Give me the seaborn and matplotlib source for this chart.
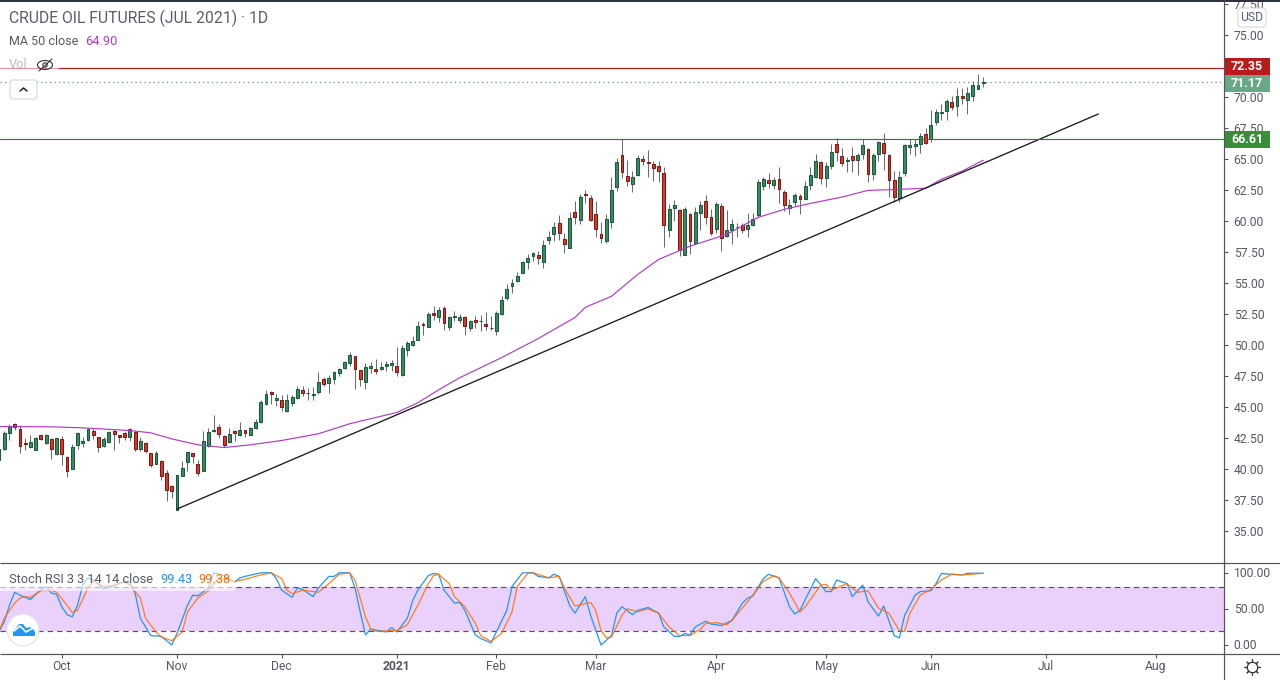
"""
plot.py
Crude oil futures daily candles with MA 50 and Stoch RSI pane.
"""

import matplotlib
matplotlib.use('Agg')
import matplotlib.pyplot as plt
import matplotlib.transforms as mtrans
import numpy as np
import seaborn as sns
from matplotlib.patches import Circle, Ellipse, FancyBboxPatch, Polygon, Rectangle

# --- Data -------------------------------------------------------------------
opens = [
    40.69, 41.60, 42.89, 43.62, 43.22, 42.11, 41.76, 41.57, 42.71, 42.09,
    42.41, 41.17, 42.41, 40.95, 40.04, 41.92, 42.06, 42.30, 43.06, 42.57,
    41.82, 42.17, 43.06, 42.73, 42.89, 42.62, 42.97, 41.63, 42.09, 41.28,
    40.44, 40.63, 39.66, 38.61, 36.73, 39.47, 40.60, 41.28, 40.39, 39.80,
    41.82, 43.03, 43.38, 42.65, 42.14, 43.06, 42.76, 43.13, 42.78, 43.27,
    43.83, 45.21, 46.20, 45.53, 45.56, 44.64, 45.29, 45.72, 46.37, 46.10,
    45.93, 46.20, 47.26, 46.91, 47.23, 47.71, 48.14, 48.52, 49.11, 47.98,
    47.01, 48.14, 48.06, 48.04, 48.28, 48.36, 48.31, 47.55, 49.60, 50.00,
    50.41, 51.70, 51.46, 52.61, 52.23, 52.99, 51.42, 52.29, 51.99, 52.26,
    51.34, 52.02, 51.91, 51.69, 51.40, 51.10, 52.48, 53.77, 54.74, 55.14,
    55.82, 56.68, 57.16, 57.22, 56.68, 58.46, 58.94, 59.86, 58.56, 57.84,
    60.75, 60.07, 62.15, 61.88, 60.58, 58.97, 58.38, 59.94, 62.77, 65.35,
    63.66, 62.98, 63.71, 65.03, 64.79, 64.63, 64.46, 63.90, 59.26, 61.04,
    60.91, 57.24, 60.58, 58.19, 60.64, 61.63, 60.34, 59.37, 61.23, 58.78,
    59.26, 59.48, 59.67, 59.34, 59.67, 60.45, 62.82, 63.33, 62.90, 63.41,
    62.36, 61.04, 61.53, 62.04, 61.80, 62.93, 63.57, 64.79, 63.47, 64.44,
    66.24, 65.28, 64.85, 65.28, 64.93, 65.41, 65.84, 63.80, 65.41, 66.33,
    65.36, 63.34, 61.86, 63.88, 65.98, 66.06, 66.17, 66.98, 66.65, 68.00,
    68.73, 68.89, 69.56, 69.29, 70.05, 69.78, 70.10, 70.67, 71.15,
]
closes = [
    41.60, 42.89, 43.49, 43.38, 41.82, 41.98, 42.17, 42.54, 42.38, 42.73,
    41.60, 42.49, 41.25, 39.80, 41.76, 42.89, 42.22, 43.22, 42.71, 41.74,
    42.41, 42.95, 42.79, 42.62, 42.62, 43.22, 41.63, 42.25, 41.49, 40.36,
    41.28, 39.47, 38.34, 38.26, 39.50, 40.07, 41.36, 41.01, 39.66, 42.22,
    42.97, 43.16, 42.79, 41.90, 42.81, 42.87, 43.11, 42.94, 43.32, 43.78,
    45.40, 46.04, 46.02, 45.75, 44.97, 45.56, 45.80, 46.45, 46.10, 46.15,
    46.04, 47.01, 46.83, 47.34, 47.82, 48.06, 48.63, 49.19, 48.04, 47.23,
    48.22, 48.31, 47.87, 48.22, 48.47, 48.52, 47.79, 49.76, 50.16, 50.33,
    51.54, 51.59, 52.51, 52.39, 52.85, 51.75, 52.26, 52.37, 52.26, 51.51,
    51.94, 51.83, 51.96, 51.51, 51.34, 52.58, 53.63, 54.52, 55.01, 55.57,
    56.70, 57.03, 57.43, 57.00, 58.08, 58.73, 59.53, 59.02, 58.13, 60.26,
    60.31, 61.96, 62.09, 60.07, 59.37, 58.62, 60.18, 62.52, 64.79, 63.95,
    63.22, 63.57, 65.11, 64.84, 64.68, 64.27, 64.03, 59.67, 60.99, 61.26,
    57.67, 60.99, 58.38, 60.75, 61.31, 60.31, 59.02, 61.39, 58.62, 59.29,
    59.78, 59.53, 59.26, 59.70, 60.18, 63.17, 63.41, 63.06, 63.33, 62.58,
    61.28, 61.31, 62.07, 61.80, 62.85, 63.74, 64.87, 63.47, 64.46, 65.59,
    65.59, 64.69, 64.90, 64.93, 65.36, 66.09, 63.80, 65.36, 66.36, 65.49,
    63.31, 61.94, 63.58, 66.09, 66.09, 66.25, 66.89, 66.30, 67.78, 68.83,
    68.83, 69.64, 69.21, 70.05, 69.94, 70.29, 70.94, 70.94, 71.17,
]
highs = [
    41.70, 43.08, 43.65, 43.70, 43.57, 42.49, 42.76, 42.60, 42.76, 42.81,
    42.49, 42.54, 42.68, 41.06, 42.03, 42.97, 42.57, 43.30, 43.22, 42.62,
    42.57, 43.03, 43.11, 42.76, 42.97, 43.27, 43.03, 42.57, 42.17, 41.33,
    41.44, 40.69, 39.88, 38.69, 39.55, 40.66, 41.41, 41.33, 40.69, 43.08,
    43.30, 44.38, 43.62, 42.73, 43.30, 43.11, 43.81, 43.16, 43.38, 44.02,
    45.59, 46.39, 46.26, 46.07, 45.99, 46.07, 45.99, 46.72, 46.72, 46.53,
    46.61, 47.85, 47.42, 47.61, 47.87, 48.12, 48.71, 49.41, 49.14, 48.01,
    48.55, 48.66, 48.87, 48.60, 48.71, 48.76, 49.87, 49.98, 50.35, 50.70,
    51.97, 51.89, 52.70, 53.18, 53.04, 53.12, 52.37, 52.77, 52.53, 52.31,
    52.04, 52.37, 52.45, 52.64, 52.31, 52.72, 53.98, 54.95, 55.33, 55.92,
    56.81, 57.30, 57.54, 57.57, 58.43, 59.21, 59.94, 60.45, 59.05, 60.75,
    61.58, 62.20, 62.47, 62.07, 61.58, 59.94, 60.53, 63.52, 65.08, 66.65,
    64.89, 64.03, 65.30, 65.30, 65.70, 64.81, 64.81, 64.33, 61.34, 61.66,
    60.99, 61.15, 60.66, 61.12, 61.61, 62.07, 60.99, 61.53, 61.42, 60.85,
    60.13, 59.80, 59.80, 60.66, 60.61, 63.41, 63.57, 63.84, 63.57, 64.33,
    62.47, 61.80, 62.28, 62.15, 63.20, 64.38, 65.38, 64.84, 64.79, 66.24,
    66.73, 65.92, 65.20, 66.00, 65.52, 66.60, 65.92, 65.52, 66.44, 67.08,
    65.44, 64.04, 64.07, 66.19, 66.60, 66.63, 67.06, 67.54, 68.94, 69.02,
    69.43, 69.83, 70.07, 70.72, 70.72, 70.77, 71.26, 71.85, 71.61,
]
lows = [
    40.60, 41.55, 42.30, 43.11, 41.33, 41.55, 41.71, 41.55, 42.36, 42.03,
    40.82, 41.12, 40.33, 39.39, 39.98, 41.63, 41.76, 42.27, 42.44, 41.39,
    41.79, 42.09, 41.55, 42.09, 42.36, 42.22, 41.49, 41.49, 41.33, 40.20,
    40.39, 39.12, 37.45, 37.67, 36.70, 39.42, 39.80, 40.52, 39.47, 39.80,
    41.74, 42.97, 42.52, 41.76, 42.09, 42.22, 42.68, 42.62, 42.76, 43.24,
    43.75, 45.18, 45.26, 45.10, 44.64, 44.56, 45.10, 45.67, 45.85, 45.53,
    45.53, 46.02, 46.66, 46.10, 46.88, 47.47, 48.09, 48.33, 46.42, 46.66,
    46.45, 47.74, 47.63, 47.96, 47.87, 47.87, 47.47, 47.52, 49.09, 49.95,
    50.38, 50.78, 51.43, 51.99, 51.83, 51.24, 51.18, 51.91, 51.77, 50.78,
    51.10, 51.40, 51.10, 51.24, 51.18, 50.78, 52.42, 53.61, 54.20, 55.09,
    55.79, 56.14, 56.81, 56.57, 56.19, 58.11, 58.37, 58.43, 57.38, 57.81,
    59.72, 59.72, 61.42, 59.99, 58.75, 58.19, 58.19, 59.40, 62.39, 63.44,
    62.82, 62.34, 63.60, 64.49, 63.55, 63.22, 63.14, 57.89, 58.70, 59.96,
    57.16, 57.22, 57.30, 58.11, 59.26, 59.78, 58.89, 59.05, 57.57, 58.73,
    58.11, 58.70, 59.00, 58.70, 59.59, 60.34, 62.50, 62.69, 62.55, 61.42,
    60.80, 60.53, 61.20, 60.53, 61.74, 62.47, 63.49, 62.95, 62.77, 64.17,
    64.84, 64.44, 63.96, 63.96, 63.72, 64.98, 63.18, 63.31, 64.85, 64.12,
    61.94, 61.56, 61.56, 63.66, 65.39, 65.25, 65.49, 66.17, 66.36, 67.76,
    68.13, 68.13, 68.97, 68.46, 69.43, 68.62, 69.70, 70.61, 70.83,
]

ma_bars = [0, 10, 16, 25, 29, 33, 38, 43, 48, 54, 61, 67, 76, 80, 84, 88, 96, 103,
           110, 112, 117, 122, 126, 132, 139, 145, 150, 155, 161, 166, 172, 177,
           180, 184, 188]
ma_values = [43.43, 43.40, 43.32, 43.10, 42.92, 42.43, 41.95, 41.73, 41.95, 42.30,
             42.84, 43.65, 44.56, 45.34, 46.39, 47.36, 48.98, 50.52, 52.21, 53.04,
             53.93, 55.69, 56.90, 57.97, 58.92, 60.29, 60.94, 61.42, 61.93, 62.47,
             62.55, 62.64, 63.36, 64.03, 64.90]

trend_bars = [34, 210]
trend_values = [36.77, 68.63]

k_bars = [0, 1, 2, 3, 4, 6, 8, 9, 10, 11, 12, 13, 14, 15, 16, 17, 18, 20, 22, 24, 25,
          26, 27, 29, 31, 33, 34, 36, 37, 38, 40, 41, 43, 45, 46, 47, 50, 52, 53, 54,
          56, 57, 58, 60, 61, 63, 64, 65, 67, 68, 69, 70, 71, 74, 75, 76, 78, 79, 80,
          82, 83, 84, 85, 87, 88, 89, 91, 92, 94, 95, 97, 98, 100, 102, 103, 105, 106,
          107, 109, 110, 112, 113, 115, 117, 118, 119, 121, 122, 124, 126, 127, 129,
          130, 131, 132, 133, 135, 136, 138, 140, 142, 143, 144, 146, 147, 149, 151,
          152, 153, 156, 158, 159, 160, 162, 163, 165, 166, 168, 169, 171, 172, 173,
          175, 176, 178, 179, 180, 182, 184, 185, 188]
k_values = [19, 32, 55, 73, 69, 63, 77, 81, 72, 70, 53, 42, 39, 55, 83, 93, 90, 78, 82,
            89, 86, 72, 37, 13, 12, 0, 16, 55, 69, 68, 79, 100, 96, 87, 93, 95, 100,
            100, 92, 76, 66, 79, 77, 67, 79, 95, 95, 100, 100, 79, 46, 14, 22, 18, 24,
            18, 37, 61, 76, 96, 99, 98, 76, 58, 59, 48, 14, 9, 3, 18, 48, 81, 100, 100,
            95, 93, 98, 95, 55, 44, 67, 41, 0, 13, 44, 53, 42, 48, 52, 44, 25, 12, 12,
            16, 14, 25, 33, 29, 27, 34, 58, 65, 68, 92, 98, 93, 53, 43, 48, 92, 74, 74,
            90, 85, 67, 83, 60, 40, 54, 13, 10, 41, 69, 74, 75, 85, 99, 98, 97, 99.4,
            99.43]

d_bars = [0, 1, 3, 4, 5, 6, 8, 10, 11, 13, 14, 15, 17, 18, 20, 22, 24, 25, 27, 28, 30,
          31, 33, 35, 36, 38, 40, 41, 42, 45, 47, 50, 52, 54, 55, 56, 58, 60, 61, 63,
          65, 67, 68, 69, 70, 71, 72, 76, 78, 80, 82, 83, 84, 86, 87, 89, 91, 92, 94,
          96, 98, 99, 101, 102, 105, 107, 108, 110, 113, 114, 115, 116, 117, 119, 120,
          122, 124, 126, 128, 130, 132, 134, 135, 137, 139, 140, 143, 144, 146, 148,
          149, 151, 153, 154, 157, 158, 159, 162, 164, 166, 168, 170, 172, 173, 174,
          176, 178, 180, 182, 184, 188]
d_values = [19, 37, 58, 65, 67, 66, 75, 76, 73, 55, 45, 48, 79, 89, 81, 83, 87, 83, 65,
            37, 18, 11, 6, 18, 46, 65, 75, 85, 93, 88, 91, 97, 100, 92, 76, 71, 76, 74,
            73, 85, 98, 100, 90, 65, 39, 22, 19, 20, 28, 55, 85, 96, 98, 85, 67, 53, 30,
            13, 5, 16, 46, 81, 99, 100, 93, 95, 79, 54, 59, 48, 20, 10, 11, 41, 50, 46,
            50, 44, 25, 13, 13, 22, 30, 31, 28, 34, 60, 69, 88, 96, 93, 72, 46, 53, 83,
            84, 76, 85, 73, 75, 51, 44, 20, 19, 44, 69, 77, 90, 98, 97, 99.38]

month_bars = [12, 34, 54, 76, 95, 114, 137, 158, 178, 200, 221]
month_labels = ['Oct', 'Nov', 'Dec', '2021', 'Feb', 'Mar', 'Apr', 'May', 'Jun', 'Jul', 'Aug']
price_ticks = [77.5, 75, 72.5, 70, 67.5, 65, 62.5, 60, 57.5, 55, 52.5, 50, 47.5, 45, 42.5,
               40, 37.5, 35]
stoch_ticks = [100, 50, 0]

resistance = 72.35
last_close = 71.17
support = 66.61
band_low, band_high = 20, 80

# --- Style ------------------------------------------------------------------
FONT = 'Roboto'
AXIS_COLOR = '#50535e'
TEXT_COLOR = '#565963'
GREEN_FACE, GREEN_EDGE = '#3b8a62', '#1c5a3d'
RED_FACE, RED_EDGE = '#d8392c', '#7b1a14'
WICK = '#686b75'
PURPLE = '#b03cc4'
BLUE = '#2196f3'
ORANGE = '#ff6d00'

sns.set_theme(style='white')
plt.rcParams['font.family'] = [FONT, 'DejaVu Sans']

W, H = 1280, 680
AXIS_X = 1224
PANE_Y = 562.5
BOTTOM_Y = 653.5
BAR_PX, BAR0_PX = 5.235, -1.0
xlim = ((0 - BAR0_PX) / BAR_PX, (AXIS_X - BAR0_PX) / BAR_PX)


def price_at(y):
    return 75 - (y - 35) / 12.4


def stoch_at(y):
    return (645 - y) / 0.722


fig = plt.figure(figsize=(W / 100, H / 100), dpi=100, facecolor='white')
ax_price = fig.add_axes([0, (H - PANE_Y) / H, AXIS_X / W, PANE_Y / H])
ax_stoch = fig.add_axes([0, (H - BOTTOM_Y) / H, AXIS_X / W, (BOTTOM_Y - PANE_Y) / H])
overlay = fig.add_axes([0, 0, 1, 1], facecolor='none', zorder=10)

# --- Candles ----------------------------------------------------------------
bars = np.arange(len(closes))
o, c, h, l = map(np.array, (opens, closes, highs, lows))
up = c >= o

ax_price.vlines(bars, l, h, color=WICK, lw=0.75, zorder=2)
ax_price.bar(bars[up], (c - o)[up], bottom=o[up], width=0.55, color=GREEN_FACE,
             edgecolor=GREEN_EDGE, linewidth=0.75, zorder=3)
ax_price.bar(bars[~up], (o - c)[~up], bottom=c[~up], width=0.55, color=RED_FACE,
             edgecolor=RED_EDGE, linewidth=0.75, zorder=3)

sns.lineplot(x=ma_bars, y=ma_values, ax=ax_price, color=PURPLE, lw=0.85, zorder=4,
             estimator=None, sort=False)
sns.lineplot(x=trend_bars, y=trend_values, ax=ax_price, color='#1a1a1a', lw=0.95, zorder=4,
             estimator=None, sort=False)

ax_price.axhline(resistance, color='#b71c1c', lw=0.85, zorder=4)
ax_price.axhline(support, color='#2e7d32', lw=0.85, zorder=4)
ax_price.axhline(last_close, color='#5f9e80', lw=0.9, ls=(0, (1, 2.6)), zorder=1)

ax_price.set_xlim(xlim)
ax_price.set_ylim(price_at(PANE_Y), price_at(0))
ax_price.set_xticks([])
ax_price.yaxis.tick_right()
ax_price.set_yticks(price_ticks)
# 72.50 sits fully behind the red price tag, so it gets no label
ax_price.set_yticklabels(['' if t == 72.5 else f'{t:.2f}' for t in price_ticks])

# --- Price tags -------------------------------------------------------------
for val, face, nudge in [(resistance, '#b71c1c', 1.5), (last_close, '#6aa784', -0.8),
                         (support, '#388e3c', -0.5)]:
    mid = val + nudge / 12.4
    ax_price.add_patch(Rectangle((1.0, mid - 8.5 / 12.4), 46 / AXIS_X, 17 / 12.4,
                                 transform=ax_price.get_yaxis_transform(), clip_on=False,
                                 facecolor=face, edgecolor='none', zorder=6))
    ax_price.text(1.0 + 23 / AXIS_X, mid, f'{val:.2f}', color='white', fontsize=9.0,
                  fontweight='bold', ha='center', va='center', clip_on=False, zorder=7,
                  transform=ax_price.get_yaxis_transform())

# --- Stoch RSI pane ---------------------------------------------------------
ax_stoch.axhspan(band_low, band_high, color='#e9d1fc', lw=0, zorder=1)
for level in (band_low, band_high):
    ax_stoch.axhline(level, color='#5b4a6e', lw=0.85, ls=(0, (4.5, 3.5)), zorder=2)
sns.lineplot(x=k_bars, y=k_values, ax=ax_stoch, color=BLUE, lw=0.9, zorder=3,
             estimator=None, sort=False)
sns.lineplot(x=d_bars, y=d_values, ax=ax_stoch, color=ORANGE, lw=0.9, alpha=0.85, zorder=4,
             estimator=None, sort=False)
ax_stoch.set_xlim(xlim)
ax_stoch.set_ylim(stoch_at(BOTTOM_Y), stoch_at(PANE_Y))
ax_stoch.yaxis.tick_right()
ax_stoch.set_yticks(stoch_ticks)
ax_stoch.set_yticklabels([f'{t:.2f}' for t in stoch_ticks])
ax_stoch.set_xticks(month_bars)
ax_stoch.set_xticklabels(month_labels)
for lbl in ax_stoch.get_xticklabels():
    if lbl.get_text() == '2021':
        lbl.set_fontweight('bold')

# --- Axes dressing ----------------------------------------------------------
for ax in (ax_price, ax_stoch):
    for spine in ax.spines.values():
        spine.set_visible(False)
    ax.patch.set_alpha(0)
    ax.tick_params(axis='y', right=True, length=3, width=0.8, color=AXIS_COLOR,
                   labelcolor=TEXT_COLOR, labelsize=8.7, pad=4)
    ax.tick_params(axis='x', bottom=True, length=3, width=0.8, color=AXIS_COLOR,
                   labelcolor=TEXT_COLOR, labelsize=8.7, pad=1.9)

# the lower pane's labels sit a pixel higher than the ticks
up_1px = mtrans.ScaledTranslation(0, 1 / 100, fig.dpi_scale_trans)
for lbl in ax_stoch.get_yticklabels():
    lbl.set_transform(lbl.get_transform() + up_1px)

# --- Overlay: frame lines, legends, buttons, icons (screen coordinates) -----
overlay.set_xlim(0, W)
overlay.set_ylim(H, 0)
overlay.axis('off')

overlay.plot([0, W], [0.5, 0.5], color='#2a2e39', lw=1.4, solid_capstyle='butt')
overlay.plot([0, W], [PANE_Y, PANE_Y], color=AXIS_COLOR, lw=0.85, solid_capstyle='butt')
overlay.plot([0, W], [BOTTOM_Y, BOTTOM_Y], color=AXIS_COLOR, lw=0.85, solid_capstyle='butt')
overlay.plot([AXIS_X, AXIS_X], [0, H], color=AXIS_COLOR, lw=0.85, solid_capstyle='butt')

overlay.add_patch(Rectangle((0, 57), 59, 16, facecolor='white', alpha=0.55, lw=0))
overlay.add_patch(Rectangle((0, 570), 235, 21, facecolor='white', alpha=0.6, lw=0))

overlay.text(9, 18, 'CRUDE OIL FUTURES (JUL 2021) · 1D', fontsize=11.3, color='#5a5d66', va='center')
overlay.text(9, 41.5, 'MA 50 close', fontsize=9.0, color=TEXT_COLOR, va='center')
overlay.text(85, 41.5, '64.90', fontsize=9.2, color=PURPLE, va='center')
overlay.text(9, 65, 'Vol', fontsize=9.2, color='#b9bbc2', va='center')
overlay.text(9, 579.5, 'Stoch RSI 3 3 14 14 close', fontsize=9.2, color=TEXT_COLOR, va='center')
overlay.text(160, 579.5, '99.43', fontsize=9.2, color=BLUE, va='center')
overlay.text(198, 579.5, '99.38', fontsize=9.2, color=ORANGE, va='center')

# hidden-volume eye
overlay.add_patch(Ellipse((45, 65), 15, 9, facecolor='none', edgecolor='#333333', lw=0.8))
overlay.add_patch(Circle((45, 65), 2.2, facecolor='none', edgecolor='#333333', lw=0.8))
overlay.plot([39, 52], [71, 59], color='#333333', lw=0.8)

# collapse button
overlay.add_patch(FancyBboxPatch((10, 80), 27, 19, boxstyle='round,pad=0,rounding_size=3',
                                 facecolor='white', edgecolor='#d5d6dc', lw=0.8))
overlay.plot([20, 23.5, 27], [91, 88, 91], color='#222222', lw=1.1)

# currency box
overlay.add_patch(FancyBboxPatch((1238, 8), 28, 19, boxstyle='round,pad=0,rounding_size=3',
                                 facecolor='white', edgecolor='#d5d6dc', lw=0.8))
overlay.text(1252, 17.5, 'USD', fontsize=8.8, color='#51617a', ha='center', va='center')

# logo badge
overlay.add_patch(Circle((23, 630), 16, facecolor='white', edgecolor='#e2e3e8', lw=0.9))
overlay.add_patch(Polygon([(13, 636), (13, 631), (16, 628), (19, 624), (23, 624), (26, 628),
                           (30, 627), (33, 629), (35, 632), (35, 636)],
                          closed=True, facecolor='#2196f3', edgecolor='none'))
overlay.plot([14, 20, 26, 35], [631, 626, 632, 627], color='white', lw=1.2)

# settings gear
overlay.plot([1252], [667], marker=(8, 2, 0), ms=11.5, color='#333333', mew=0.8)
overlay.plot([1252], [667], marker='o', ms=7.5, mfc='white', mec='#333333', mew=0.9)

fig.savefig('out.png', dpi=100)
